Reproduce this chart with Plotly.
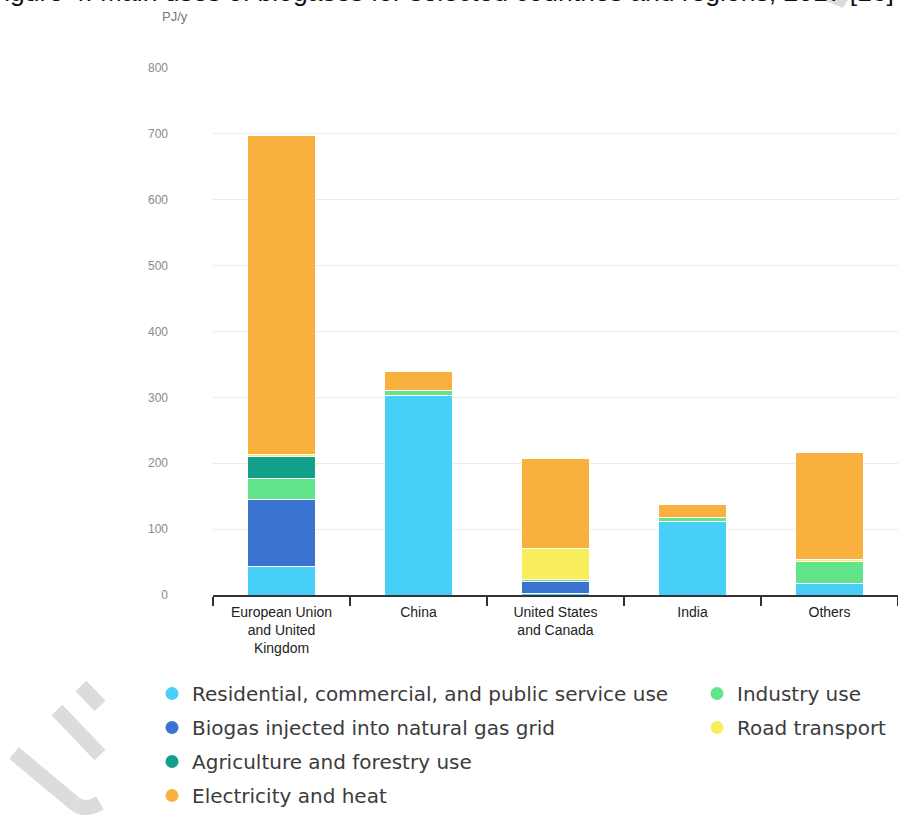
import plotly.graph_objects as go

categories = ["European Union<br>and United<br>Kingdom", "China", "United States<br>and Canada", "India", "Others"]
series_names = [
    "Residential, commercial, and public service use",
    "Biogas injected into natural gas grid",
    "Industry use",
    "Agriculture and forestry use",
    "Road transport",
    "Electricity and heat",
]
residential = [43, 303, 3, 111, 18]
gas_grid = [102, 0, 18, 0, 0]
industry = [32, 8, 3, 6, 33]
agriculture = [33, 0, 0, 0, 0]
road = [3, 0, 46, 0, 3]
electricity = [485, 29, 137, 21, 162]
series_values = [residential, gas_grid, industry, agriculture, road, electricity]
colors = ["#48CFF8", "#3A72D0", "#62E58A", "#13A08B", "#F8EE5C", "#F8B03E"]
legend_ids = ["legend", "legend", "legend2", "legend", "legend2", "legend"]
y_ticks = [0, 100, 200, 300, 400, 500, 600, 700, 800]

W, H = 898, 820
L, R, T, B = 213, 0, 68, 225
PW, PH = W - L - R, H - T - B

def px(x):
    return (x - L) / PW

def py(y):
    return (H - B - y) / PH

fig = go.Figure()
for name, vals, col in zip(series_names, series_values, colors):
    fig.add_trace(go.Bar(
        x=categories, y=vals, name=name, marker=dict(color=col, line=dict(color="white", width=1)),
        width=0.49, showlegend=False,
    ))
for i, (name, col, lg) in enumerate(zip(series_names, colors, legend_ids)):
    fig.add_trace(go.Scatter(
        x=[None], y=[None], mode="markers", name=name, legend=lg, legendgroup=name,
        marker=dict(color=col, size=13, symbol="circle"), showlegend=True,
    ))

legend_font = dict(family="DejaVu Sans", size=20, color="#3C3C3C")
fig.update_layout(
    width=W, height=H, barmode="stack",
    margin=dict(l=L, r=R, t=T, b=B),
    plot_bgcolor="white", paper_bgcolor="white",
    bargap=0.51,
    legend=dict(x=px(152), y=py(674), xanchor="left", yanchor="top", orientation="v",
                font=legend_font, traceorder="grouped", tracegroupgap=5,
                bgcolor="rgba(0,0,0,0)", itemsizing="trace"),
    legend2=dict(x=px(697), y=py(674), xanchor="left", yanchor="top", orientation="v",
                 font=legend_font, traceorder="grouped", tracegroupgap=5,
                 bgcolor="rgba(0,0,0,0)", itemsizing="trace"),
    xaxis=dict(
        categoryorder="array", categoryarray=categories,
        showline=True, linecolor="#333", linewidth=1.5,
        ticks="outside", tickson="boundaries", ticklen=9, tickcolor="#333", tickwidth=1.5,
        tickfont=dict(family="Liberation Sans", size=14, color="#222"),
        ticklabelstandoff=3,
        showgrid=False,
    ),
    yaxis=dict(
        range=[0, 800], tickvals=y_ticks, showgrid=True, gridcolor="#EBEBEB", gridwidth=1,
        zeroline=False, showline=False,
        tickfont=dict(family="Liberation Sans", size=12, color="#8A8A8A"),
        ticklabelstandoff=44,
    ),
)

fig.add_annotation(
    text="PJ/y", xref="paper", yref="paper", x=px(160), y=py(16), xanchor="left", yanchor="middle",
    showarrow=False, font=dict(family="Liberation Sans", size=13, color="#777"),
)
fig.add_annotation(
    text="Figure 4. Main uses of biogases for selected countries and regions, 2017 [16]",
    xref="paper", yref="paper", x=px(-14), y=py(-8), xanchor="left", yanchor="middle",
    showarrow=False, font=dict(family="Liberation Sans", size=26.5, color="#111"),
)

wm = "#DCDCDC"
def seg(x0, y0, x1, y1, w=15):
    fig.add_shape(type="line", xref="paper", yref="paper", x0=px(x0), y0=py(y0), x1=px(x1), y1=py(y1),
                  line=dict(color=wm, width=w), layer="below")

seg(14, 753, 74, 803)
fig.add_shape(type="path", xref="paper", yref="paper",
              path=f"M {px(74)} {py(803)} Q {px(84)} {py(812)} {px(100)} {py(803)}",
              line=dict(color=wm, width=15), layer="below")
seg(57, 710, 100, 755)
seg(81, 686, 100, 706)
fig.add_shape(type="path", xref="paper", yref="paper",
              path=f"M {px(823)} {py(0)} L {px(848)} {py(0)} L {px(843)} {py(8)} Z",
              fillcolor=wm, line=dict(width=0), layer="below")

fig.write_html("out.html")
